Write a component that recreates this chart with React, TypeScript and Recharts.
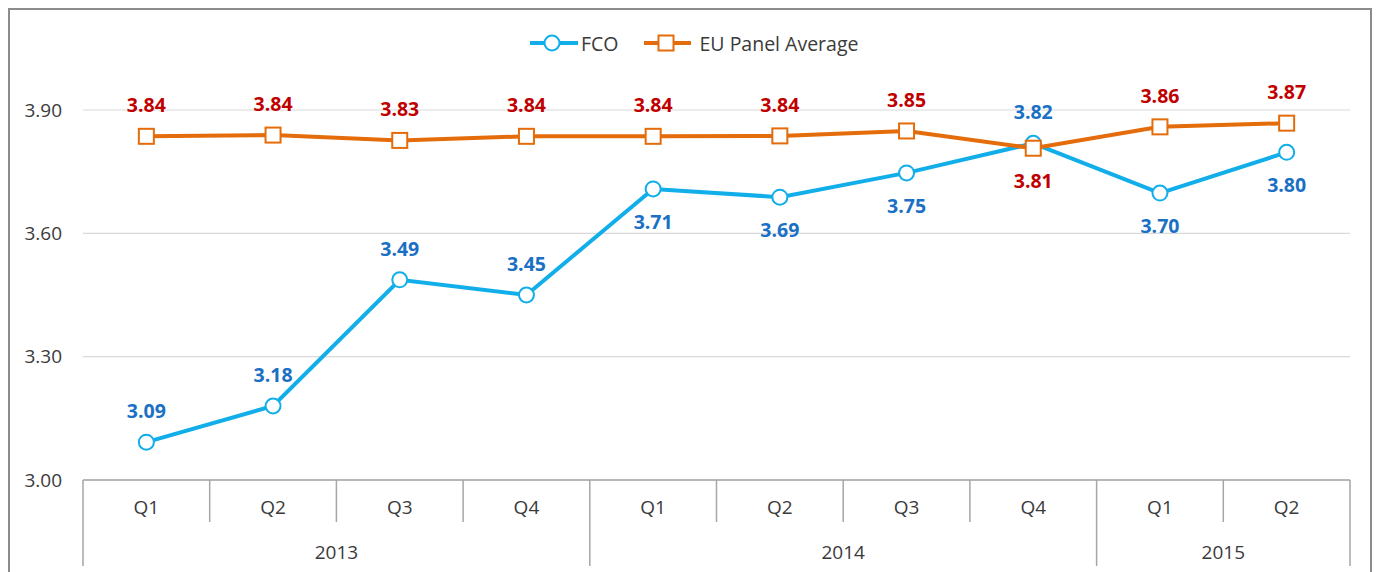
import React from 'react';
import { LineChart, Line, XAxis, YAxis, CartesianGrid, LabelList } from 'recharts';

const quarters = ['Q1', 'Q2', 'Q3', 'Q4', 'Q1', 'Q2', 'Q3', 'Q4', 'Q1', 'Q2'];
const years = ['2013', '2013', '2013', '2013', '2014', '2014', '2014', '2014', '2015', '2015'];
const fcoValues = [3.092, 3.18, 3.487, 3.45, 3.708, 3.688, 3.747, 3.819, 3.698, 3.797];
const euValues = [3.836, 3.839, 3.826, 3.836, 3.836, 3.837, 3.849, 3.807, 3.859, 3.868];
const yTicks = [3.0, 3.3, 3.6, 3.9];
const fcoLabelSide = ['top', 'top', 'top', 'top', 'bottom', 'bottom', 'bottom', 'top', 'bottom', 'bottom'];
const euLabelSide = ['top', 'top', 'top', 'top', 'top', 'top', 'top', 'bottom', 'top', 'top'];

const data = quarters.map((q, i) => ({
  q,
  year: years[i],
  fco: fcoValues[i],
  eu: euValues[i],
}));

const W = 1378;
const H = 572;
const MARGIN = { top: 110, right: 28, bottom: 6, left: 8 };
const Y_AXIS_W = 75;
const PLOT_W = W - MARGIN.left - MARGIN.right - Y_AXIS_W;
const BW = PLOT_W / data.length;
const PAD = { left: BW / 2, right: BW / 2 };

const FONT = '"Open Sans", "Noto Sans", sans-serif';
const FCO_COLOR = '#12aee9';
const EU_COLOR = '#e46c0a';
const FCO_LABEL = '#1a70c4';
const EU_LABEL = '#c00000';
const AXIS = '#a6a6a6';
const TEXT = '#3a3a3a';

const QTick = (props: any) => {
  const { x, y, payload, index } = props;
  const left = x - BW / 2;
  const right = x + BW / 2;
  return (
    <g>
      <line x1={left} y1={y} x2={left} y2={y + 42} stroke={AXIS} strokeWidth={1.5} />
      {index === data.length - 1 && (
        <line x1={right} y1={y} x2={right} y2={y + 42} stroke={AXIS} strokeWidth={1.5} />
      )}
      <text x={x} y={y + 34} textAnchor="middle" fill={TEXT} fontSize={19} fontFamily={FONT}>
        {payload.value}
      </text>
    </g>
  );
};

const YearTick = (props: any) => {
  const { x, y, payload, index } = props;
  const isStart = index === 0 || years[index - 1] !== years[index];
  const isEnd = index === data.length - 1;
  let count = 0;
  if (isStart) {
    for (let j = index; j < years.length && years[j] === years[index]; j++) count++;
  }
  const left = x - BW / 2;
  const center = left + (count * BW) / 2;
  return (
    <g>
      {isStart && <line x1={left} y1={y} x2={left} y2={y + 44} stroke={AXIS} strokeWidth={1.5} />}
      {isEnd && (
        <line x1={x + BW / 2} y1={y} x2={x + BW / 2} y2={y + 44} stroke={AXIS} strokeWidth={1.5} />
      )}
      {isStart && (
        <text x={center} y={y + 37} textAnchor="middle" fill={TEXT} fontSize={19} fontFamily={FONT}>
          {payload.value}
        </text>
      )}
    </g>
  );
};

const makeLabel = (sides: string[], color: string) => (props: any) => {
  const { x, y, value, index } = props;
  const above = sides[index] !== 'bottom';
  return (
    <text
      x={x}
      y={above ? y - 24 : y + 40}
      textAnchor="middle"
      fill={color}
      fontSize={19.5}
      fontWeight={700}
      fontFamily={FONT}
    >
      {(Math.round(Number(value) * 100) / 100).toFixed(2)}
    </text>
  );
};

const SquareDot = (props: any) => {
  const { cx, cy } = props;
  if (cx == null || cy == null) return null;
  return (
    <rect x={cx - 7.5} y={cy - 7.5} width={15} height={15} fill="#fff" stroke={EU_COLOR} strokeWidth={2} />
  );
};

const LegendBlock = () => (
  <div
    style={{
      position: 'absolute',
      top: 30,
      left: 530,
      display: 'flex',
      alignItems: 'center',
      fontFamily: FONT,
      fontSize: 19.5,
      color: TEXT,
      height: 26,
      whiteSpace: 'nowrap',
    }}
  >
    <svg width={48} height={20} style={{ display: 'block' }}>
      <line x1={0} y1={10} x2={48} y2={10} stroke={FCO_COLOR} strokeWidth={4} />
      <circle cx={22} cy={10} r={7.5} fill="#fff" stroke={FCO_COLOR} strokeWidth={2} />
    </svg>
    <span style={{ marginLeft: 3 }}>FCO</span>
    <svg width={47} height={20} style={{ display: 'block', marginLeft: 25 }}>
      <line x1={0} y1={10} x2={47} y2={10} stroke={EU_COLOR} strokeWidth={4} />
      <rect x={14.5} y={2.5} width={15} height={15} fill="#fff" stroke={EU_COLOR} strokeWidth={2} />
    </svg>
    <span style={{ marginLeft: 9 }}>EU Panel Average</span>
  </div>
);

export default function App() {
  return (
    <div
      style={{
        position: 'fixed',
        left: 0,
        top: 0,
        width: W,
        height: H,
        background: '#fff',
        overflow: 'hidden',
      }}
    >
      <div
        style={{
          position: 'absolute',
          left: 8,
          top: 8,
          width: 1364,
          height: 620,
          border: '2px solid #8c8c8c',
          boxSizing: 'border-box',
        }}
      />
      <div style={{ position: 'absolute', left: 0, top: 0 }}>
        <LineChart width={W} height={H} data={data} margin={MARGIN}>
          <CartesianGrid horizontal vertical={false} stroke="#d9d9d9" strokeWidth={1.2} />
          <XAxis
            xAxisId="q"
            dataKey="q"
            interval={0}
            height={42}
            padding={PAD}
            tickSize={0}
            tickMargin={0}
            tickLine={false}
            axisLine={{ stroke: AXIS, strokeWidth: 1.5 }}
            tick={<QTick />}
          />
          <XAxis
            xAxisId="year"
            dataKey="year"
            interval={0}
            height={44}
            padding={PAD}
            tickSize={0}
            tickMargin={0}
            tickLine={false}
            axisLine={false}
            tick={<YearTick />}
          />
          <YAxis
            domain={[3, 3.9]}
            ticks={yTicks}
            width={Y_AXIS_W}
            axisLine={false}
            tickLine={false}
            tickSize={0}
            tickMargin={21}
            tickFormatter={(v: number) => v.toFixed(2)}
            tick={{ fill: TEXT, fontSize: 19, fontFamily: FONT }}
            interval={0}
          />
          <Line
            xAxisId="q"
            type="linear"
            dataKey="fco"
            name="FCO"
            stroke={FCO_COLOR}
            strokeWidth={4}
            dot={{ r: 7.5, fill: '#fff', stroke: FCO_COLOR, strokeWidth: 2 }}
            activeDot={false}
            isAnimationActive={false}
          >
            <LabelList dataKey="fco" content={makeLabel(fcoLabelSide, FCO_LABEL)} />
          </Line>
          <Line
            xAxisId="q"
            type="linear"
            dataKey="eu"
            name="EU Panel Average"
            stroke={EU_COLOR}
            strokeWidth={4}
            dot={<SquareDot />}
            activeDot={false}
            isAnimationActive={false}
          >
            <LabelList dataKey="eu" content={makeLabel(euLabelSide, EU_LABEL)} />
          </Line>
        </LineChart>
      </div>
      <LegendBlock />
    </div>
  );
}
